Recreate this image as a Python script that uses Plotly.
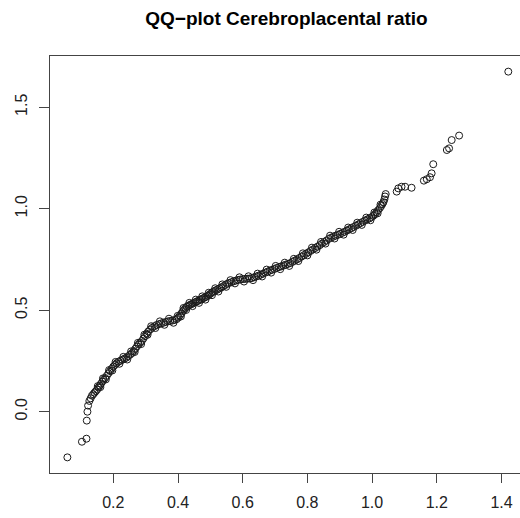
import plotly.graph_objects as go

x_vals = [0.058, 0.103, 0.117, 0.118, 0.120, 0.122, 0.126, 0.130, 0.134, 0.138, 0.142, 0.146, 0.150, 0.154, 0.158, 0.162, 0.166, 0.170, 0.175, 0.180,
          0.185, 0.190, 0.195, 0.200, 0.205, 0.210, 0.216, 0.222, 0.228, 0.234, 0.240, 0.246, 0.252, 0.258, 0.263, 0.268, 0.273, 0.278, 0.283, 0.288,
          0.293, 0.298, 0.303, 0.308, 0.314, 0.320, 0.327, 0.334, 0.341, 0.348, 0.355, 0.362, 0.369, 0.376, 0.383, 0.390, 0.396, 0.401, 0.406, 0.411,
          0.415, 0.419, 0.423, 0.427, 0.432, 0.437, 0.442, 0.447, 0.452, 0.457, 0.462, 0.467, 0.472, 0.477, 0.482, 0.487, 0.492, 0.497, 0.502, 0.507,
          0.512, 0.517, 0.522, 0.528, 0.534, 0.540, 0.546, 0.552, 0.558, 0.565, 0.572, 0.579, 0.586, 0.593, 0.600, 0.607, 0.614, 0.621, 0.628, 0.635,
          0.642, 0.649, 0.656, 0.663, 0.670, 0.677, 0.684, 0.691, 0.698, 0.705, 0.712, 0.719, 0.726, 0.733, 0.740, 0.747, 0.754, 0.761, 0.768, 0.775,
          0.782, 0.789, 0.796, 0.803, 0.810, 0.817, 0.824, 0.831, 0.838, 0.845, 0.852, 0.859, 0.866, 0.873, 0.880, 0.887, 0.894, 0.901, 0.908, 0.915,
          0.922, 0.929, 0.936, 0.943, 0.950, 0.957, 0.964, 0.971, 0.978, 0.985, 0.992, 0.998, 1.004, 1.009, 1.014, 1.019, 1.024, 1.028, 1.032, 1.035,
          1.038, 1.040, 1.042, 1.076, 1.081, 1.091, 1.102, 1.122, 1.160, 1.169, 1.179, 1.184, 1.189, 1.231, 1.238, 1.246, 1.269, 1.421,
          # second row of points in the dense band
          0.152, 0.160, 0.168, 0.177, 0.187, 0.197, 0.207, 0.219, 0.231, 0.243, 0.255, 0.266, 0.276, 0.286, 0.296, 0.306, 0.317, 0.330, 0.344, 0.358,
          0.372, 0.386, 0.399, 0.409, 0.417, 0.425, 0.435, 0.445, 0.455, 0.465, 0.475, 0.485, 0.495, 0.505, 0.515, 0.525, 0.537, 0.549, 0.562, 0.576,
          0.590, 0.604, 0.618, 0.632, 0.646, 0.660, 0.674, 0.688, 0.702, 0.716, 0.730, 0.744, 0.758, 0.772, 0.786, 0.800, 0.814, 0.828, 0.842, 0.856,
          0.870, 0.884, 0.898, 0.912, 0.926, 0.940, 0.954, 0.968, 0.982, 0.995, 1.007, 1.017, 1.026]

y_vals = [-0.225, -0.148, -0.133, -0.044, 0.000, 0.030, 0.053, 0.066, 0.079, 0.086, 0.094, 0.101, 0.109, 0.119, 0.128, 0.138, 0.148, 0.157, 0.166, 0.177,
          0.189, 0.200, 0.211, 0.222, 0.230, 0.238, 0.246, 0.251, 0.256, 0.261, 0.266, 0.273, 0.281, 0.289, 0.299, 0.310, 0.321, 0.331, 0.340, 0.348,
          0.360, 0.372, 0.384, 0.395, 0.405, 0.413, 0.421, 0.427, 0.431, 0.435, 0.438, 0.442, 0.445, 0.447, 0.449, 0.452, 0.456, 0.464, 0.474, 0.485,
          0.495, 0.503, 0.510, 0.517, 0.522, 0.526, 0.530, 0.534, 0.538, 0.542, 0.546, 0.550, 0.554, 0.558, 0.562, 0.566, 0.571, 0.577, 0.583, 0.589,
          0.594, 0.598, 0.602, 0.607, 0.612, 0.618, 0.624, 0.630, 0.634, 0.638, 0.642, 0.646, 0.649, 0.651, 0.653, 0.654, 0.655, 0.656, 0.658, 0.662,
          0.666, 0.670, 0.675, 0.680, 0.685, 0.690, 0.695, 0.699, 0.703, 0.708, 0.712, 0.716, 0.720, 0.724, 0.728, 0.732, 0.738, 0.744, 0.750, 0.757,
          0.764, 0.771, 0.778, 0.785, 0.792, 0.799, 0.806, 0.813, 0.820, 0.828, 0.836, 0.843, 0.851, 0.857, 0.862, 0.867, 0.871, 0.876, 0.881, 0.886,
          0.892, 0.898, 0.904, 0.910, 0.916, 0.922, 0.929, 0.935, 0.941, 0.947, 0.952, 0.958, 0.965, 0.973, 0.983, 0.993, 1.003, 1.013, 1.023, 1.032,
          1.045, 1.060, 1.072, 1.084, 1.100, 1.108, 1.108, 1.103, 1.138, 1.145, 1.155, 1.174, 1.219, 1.289, 1.297, 1.338, 1.360, 1.675,
          0.126, 0.121, 0.164, 0.159, 0.205, 0.203, 0.245, 0.236, 0.270, 0.257, 0.297, 0.294, 0.339, 0.333, 0.379, 0.379, 0.421, 0.412, 0.445, 0.428,
          0.458, 0.438, 0.472, 0.469, 0.511, 0.501, 0.536, 0.520, 0.552, 0.536, 0.568, 0.552, 0.586, 0.574, 0.608, 0.592, 0.627, 0.615, 0.648, 0.632,
          0.662, 0.641, 0.667, 0.648, 0.680, 0.666, 0.700, 0.685, 0.718, 0.702, 0.734, 0.718, 0.753, 0.742, 0.780, 0.770, 0.808, 0.798, 0.836, 0.828,
          0.867, 0.853, 0.886, 0.872, 0.907, 0.895, 0.931, 0.920, 0.956, 0.943, 0.981, 0.977, 1.020]

x_ticks = [0.2, 0.4, 0.6, 0.8, 1.0, 1.2, 1.4]
y_ticks = [0.0, 0.5, 1.0, 1.5]
title_text = "QQ\u2212plot Cerebroplacental ratio"

FONT = "Liberation Sans, Arial, Helvetica, sans-serif"

fig = go.Figure()
fig.add_trace(go.Scatter(
    x=x_vals, y=y_vals, mode="markers",
    marker=dict(symbol="circle-open", size=7, color="#1a1a1a", line=dict(width=1)),
    showlegend=False, hoverinfo="skip",
))

fig.update_layout(
    width=520, height=518,
    margin=dict(l=50, r=0, t=56, b=45),
    paper_bgcolor="white", plot_bgcolor="white",
    font=dict(family=FONT, color="black", size=16),
    title=dict(text="<b>" + title_text + "</b>", x=0.551, xanchor="center",
               y=1 - 18 / 518, yanchor="middle", font=dict(size=19, family=FONT, color="black")),
    xaxis=dict(range=[0.0043, 1.4572], tickvals=x_ticks, ticktext=[f"{v:.1f}" for v in x_ticks],
               showgrid=False, zeroline=False, showline=True, mirror=True, linecolor="#444", linewidth=1,
               ticks="outside", ticklen=9, tickcolor="#444", tickfont=dict(size=16, color="#222"),
               ticklabelstandoff=6),
    yaxis=dict(range=[-0.302, 1.752], tickvals=y_ticks, ticktext=[f"{v:.1f}" for v in y_ticks],
               showgrid=False, zeroline=False, showline=True, mirror=False, linecolor="#444", linewidth=1,
               ticks="outside", ticklen=10, tickcolor="#444", tickangle=-90, tickfont=dict(size=16, color="#222"),
               ticklabelstandoff=6),
)

fig.write_html("out.html")
